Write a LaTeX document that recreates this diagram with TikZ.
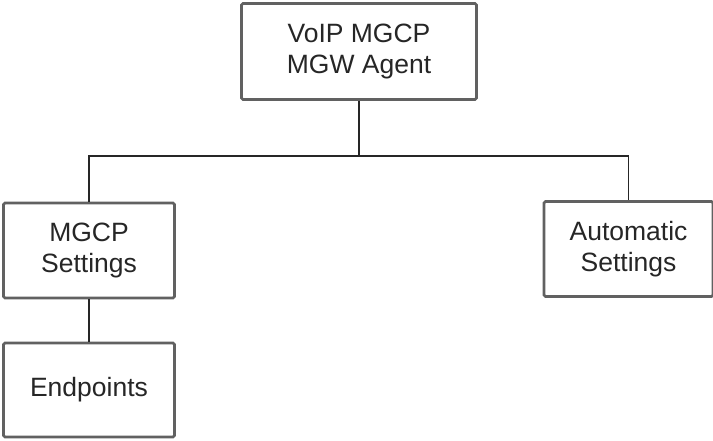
\documentclass[tikz,border=0pt]{standalone}
\usepackage{fontspec}
\setmainfont{Liberation Sans}
\begin{document}
\begin{tikzpicture}[x=1pt,y=-1pt,
  box/.style={draw=black!62, line width=2.6pt, rounded corners=1.5pt, fill=white, inner sep=0pt, align=center,
    font=\fontsize{26.5}{31.5}\selectfont, text=black!85},
  conn/.style={draw=black!85, line width=1.8pt}]
\useasboundingbox (0,0) rectangle (713,440);
\node[box, minimum width=235pt, minimum height=96pt] (top) at (359,51.5) {VoIP MGCP\\MGW Agent};
\node[box, minimum width=171pt, minimum height=95pt] (mgcp) at (89,250.5) {MGCP\\Settings};
\node[box, minimum width=169pt, minimum height=95pt] (auto) at (628.5,249) {Automatic\\Settings};
\node[box, minimum width=171pt, minimum height=94pt] (end) at (89,390) {Endpoints};
\coordinate (hy) at (0,156);
\draw[conn] (top.south) -- (top.south |- hy);
\draw[conn] (mgcp.north) -- (mgcp.north |- hy) -- (auto.north |- hy) -- (auto.north);
\draw[conn] (mgcp.south) -- (end.north);
\end{tikzpicture}
\end{document}
